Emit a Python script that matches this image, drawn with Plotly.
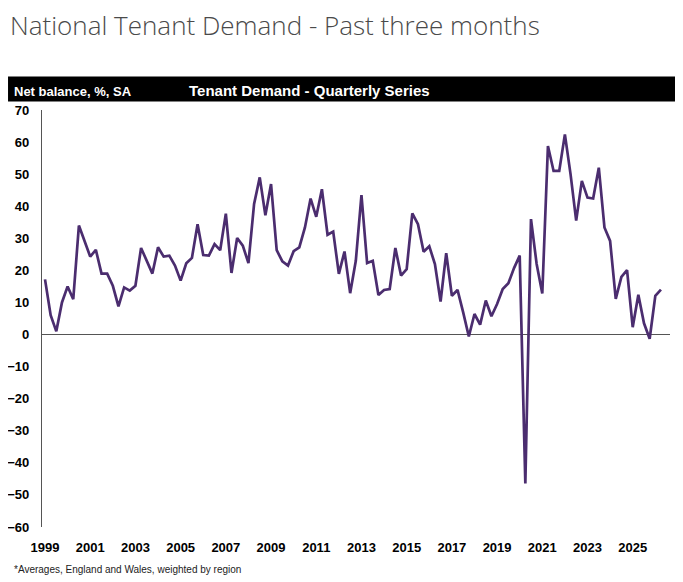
import plotly.graph_objects as go

# Tenant demand net balance, quarterly, starting 1999 Q1
start_year = 1999
tenant_demand = [
    17.2, 6.0, 1.0, 10.0,      # 1999
    15.0, 11.0, 34.0, 29.2,    # 2000
    24.3, 26.4, 19.0, 19.0,    # 2001
    15.2, 8.8, 14.7, 13.7,     # 2002
    15.2, 27.0, 23.0, 19.0,    # 2003
    27.2, 24.3, 24.6, 21.5,    # 2004
    16.8, 22.2, 23.9, 34.4,    # 2005
    24.8, 24.6, 28.2, 26.3,    # 2006
    37.7, 19.2, 30.1, 27.7,    # 2007
    22.3, 40.7, 49.0, 37.2,    # 2008
    46.9, 26.3, 22.8, 21.5,    # 2009
    26.0, 27.2, 33.4, 42.4,    # 2010
    36.7, 45.3, 31.1, 32.1,    # 2011
    18.9, 25.9, 12.9, 23.0,    # 2012
    43.5, 22.3, 23.0, 12.3,    # 2013
    13.9, 14.2, 27.0, 18.4,    # 2014
    20.4, 37.8, 34.4, 25.8,    # 2015
    27.5, 22.0, 10.3, 25.4,    # 2016
    12.1, 13.9, 6.9, -0.6,     # 2017
    6.4, 3.1, 10.6, 5.7,       # 2018
    9.5, 14.2, 16.0, 20.7,     # 2019
    24.6, -46.4, 36.0, 22.0,   # 2020
    12.8, 58.8, 51.0, 51.0,    # 2021
    62.4, 50.0, 35.5, 47.9,    # 2022
    42.7, 42.4, 52.0, 33.4,    # 2023
    29.2, 11.1, 18.0, 20.1,    # 2024
    2.3, 12.4, 3.5, -1.3,      # 2025
    12.1, 14.0,                # 2026
]
quarters = [start_year + i / 4 for i in range(len(tenant_demand))]

tick_years = list(range(1999, 2026, 2))
y_ticks = list(range(-60, 71, 10))

title_text = "National Tenant Demand - Past three months"
band_left = "Net balance, %, SA"
band_title = "Tenant Demand - Quarterly Series"
footnote = "*Averages, England and Wales, weighted by region"

narrow = "Liberation Sans Narrow, Arial Narrow, Liberation Sans, Arial, sans-serif"

fig = go.Figure()

fig.add_trace(go.Scatter(
    x=quarters,
    y=tenant_demand,
    mode="lines",
    line=dict(color="#4B2D6F", width=2.7),
    hoverinfo="x+y",
    showlegend=False,
))

# black header band above the plot
fig.add_shape(
    type="rect", xref="paper", yref="paper",
    x0=-0.0541, x1=1.0143, y0=1.0204, y1=1.0802,
    fillcolor="black", line=dict(width=0), layer="above",
)

fig.add_annotation(
    text=band_left, xref="paper", yref="paper",
    x=-0.0485, y=1.0215, xanchor="left", yanchor="bottom",
    showarrow=False,
    font=dict(family=narrow, size=13, color="white", weight="bold"),
)
fig.add_annotation(
    text=band_title, xref="paper", yref="paper",
    x=0.2310, y=1.0215, xanchor="left", yanchor="bottom",
    showarrow=False,
    font=dict(family=narrow, size=15, color="white", weight="bold"),
)
fig.add_annotation(
    text=footnote, xref="paper", yref="paper",
    x=-0.0478, y=-0.103, xanchor="left", yanchor="middle",
    showarrow=False,
    font=dict(family=narrow, size=10, color="#222222"),
)

# page body adds an 8px offset, so the figure is 8px smaller each way
fig.update_layout(
    width=675,
    height=574,
    margin=dict(l=34, r=13, t=101.5, b=55, pad=0),
    paper_bgcolor="white",
    plot_bgcolor="white",
    title=dict(
        text=title_text,
        xref="container", yref="container",
        x=2 / 675, xanchor="left",
        y=1 - 18 / 574, yanchor="middle",
        font=dict(family="Open Sans", size=26, color="#4a4a4a", weight=300),
    ),
    xaxis=dict(
        range=[1998.867, 2026.65],
        tickvals=tick_years,
        ticktext=[str(y) for y in tick_years],
        showgrid=False,
        zeroline=False,
        showline=False,
        ticks="",
        automargin=False,
        ticklabelstandoff=11,
        tickfont=dict(family=narrow, size=13, color="black", weight="bold"),
    ),
    yaxis=dict(
        range=[-60, 70],
        tickvals=y_ticks,
        showgrid=False,
        zeroline=True,
        zerolinecolor="#555555",
        zerolinewidth=1.3,
        showline=True,
        linecolor="#555555",
        linewidth=1.3,
        ticks="",
        automargin=False,
        ticklabelstandoff=9,
        tickfont=dict(family=narrow, size=13, color="black", weight="bold"),
    ),
)

fig.write_html("out.html")
